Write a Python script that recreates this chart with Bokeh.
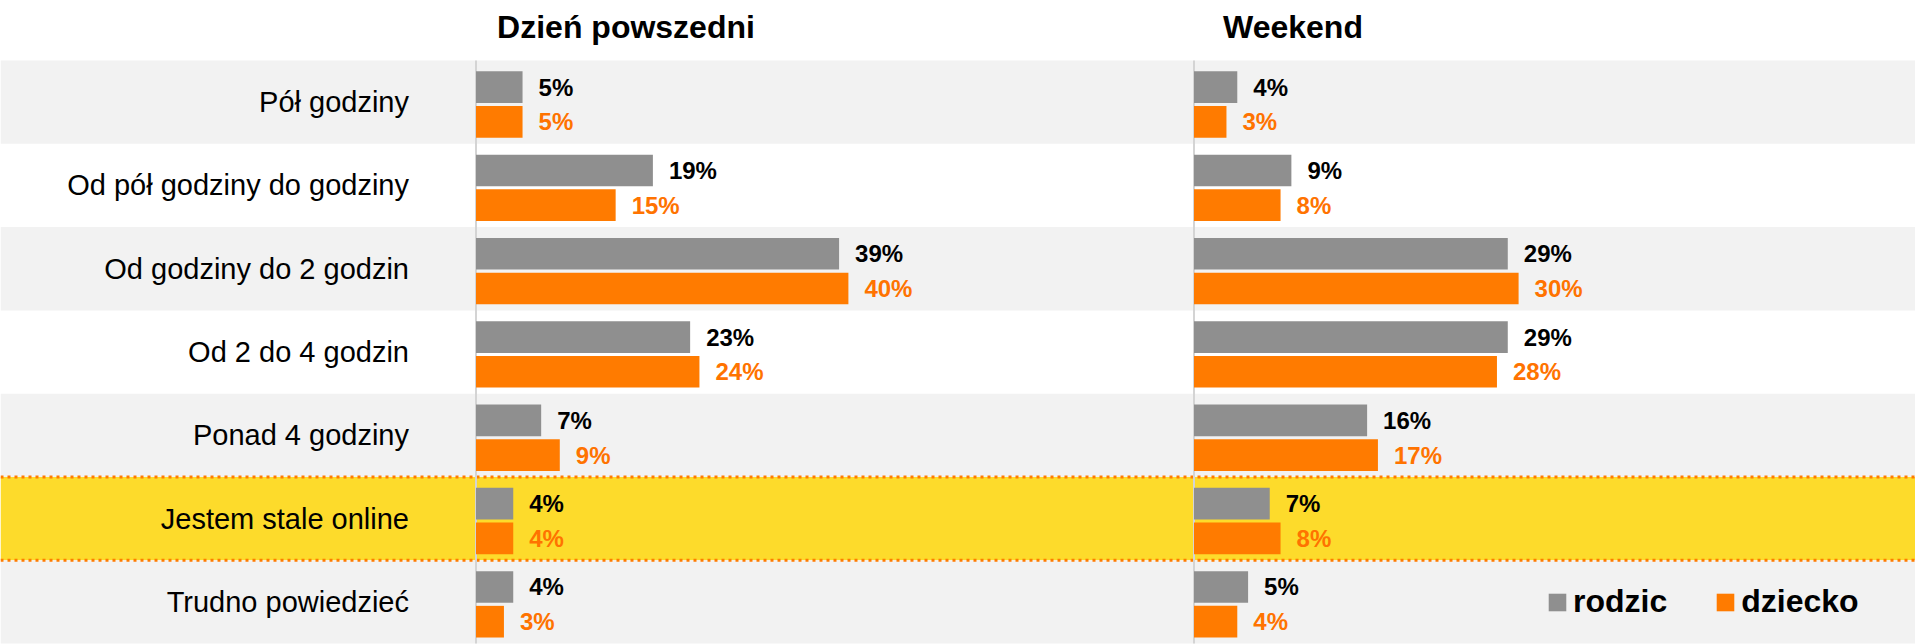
from bokeh.plotting import figure
from bokeh.models import Range1d, BoxAnnotation, Span, Legend, LegendItem, ColumnDataSource
from bokeh.core.properties import value
from bokeh.embed import file_html
from bokeh.resources import INLINE

categories = ["Pół godziny", "Od pół godziny do godziny", "Od godziny do 2 godzin",
              "Od 2 do 4 godzin", "Ponad 4 godziny", "Jestem stale online", "Trudno powiedzieć"]
day_rodzic = [5, 19, 39, 23, 7, 4, 4]
day_dziecko = [5, 15, 40, 24, 9, 4, 3]
wk_rodzic = [4, 9, 29, 29, 16, 7, 5]
wk_dziecko = [3, 8, 30, 28, 17, 8, 4]
panel_titles = ["Dzień powszedni", "Weekend"]
series_names = ["rodzic", "dziecko"]
highlight_row = 5

W, H = 1915, 644
ROW_PX = 83.3
TOP_PX = 60
DAY_PX = 9.31
WK_PX = 10.82
DAY_ZERO = 475.5
WK_ZERO = 1193.5

GRAY = "#8F8F8F"
ORANGE = "#FF7B00"
ORANGE_TXT = "#FF7300"
BAND = "#F2F2F2"
YELLOW = "#FDDB2B"
FONT = "Liberation Sans"

y_top = 0.5 + TOP_PX / ROW_PX
y_bot = y_top - H / ROW_PX

p = figure(width=W, height=H, output_backend="svg", toolbar_location=None,
           x_range=Range1d(-DAY_ZERO / DAY_PX, (W - DAY_ZERO) / DAY_PX),
           y_range=Range1d(y_bot, y_top),
           x_axis_location=None, y_axis_location=None, min_border=0,
           outline_line_color=None, background_fill_color="white", border_fill_color="white")
p.extra_x_ranges = {"wk": Range1d(-WK_ZERO / WK_PX, (W - WK_ZERO) / WK_PX)}
p.grid.visible = False

n = len(categories)
ys = [-i for i in range(n)]

# row bands
for i in range(n):
    if i == highlight_row:
        col = YELLOW
    elif i % 2 == 0:
        col = BAND
    else:
        col = "white"
    if col != "white":
        p.add_layout(BoxAnnotation(top=ys[i] + 0.5, bottom=ys[i] - 0.5, fill_color=col,
                                   fill_alpha=1, line_alpha=0, level="underlay"))

for loc in (ys[highlight_row] + 0.5, ys[highlight_row] - 0.5):
    p.add_layout(Span(location=loc, dimension="width", line_color=ORANGE, line_width=3,
                      line_dash="3 4", level="underlay"))

OFF_R = 0.18
OFF_D = -0.237
BH = 0.38

renderers = {}
for rng, rod, dz in ((p.x_range, day_rodzic, day_dziecko), ("wk", wk_rodzic, wk_dziecko)):
    kw = {} if rng is p.x_range else {"x_range_name": "wk"}
    src = ColumnDataSource(dict(
        yr=[y + OFF_R for y in ys], yd=[y + OFF_D for y in ys], r=rod, d=dz,
        rl=[f"{v}%" for v in rod], dl=[f"{v}%" for v in dz]))
    # axis line
    p.segment(x0=[0], y0=[ys[0] + 0.5], x1=[0], y1=[ys[-1] - 0.5], line_color="#D4D4D4",
              line_width=2, **kw)
    rr = p.hbar(y="yr", right="r", left=0, height=BH, fill_color=GRAY, line_color=None,
                source=src, **kw)
    rd = p.hbar(y="yd", right="d", left=0, height=BH, fill_color=ORANGE, line_color=None,
                source=src, **kw)
    renderers.setdefault("rodzic", rr)
    renderers.setdefault("dziecko", rd)
    p.text(x="r", y="yr", text="rl", x_offset=16, text_align="left", text_baseline="middle",
           text_font=value(FONT), text_font_size="24px", text_font_style="bold",
           text_color="black", source=src, **kw)
    p.text(x="d", y="yd", text="dl", x_offset=16, text_align="left", text_baseline="middle",
           text_font=value(FONT), text_font_size="24px", text_font_style="bold",
           text_color=ORANGE_TXT, source=src, **kw)

# category labels
p.text(x=[0] * n, y=ys, text=categories, x_offset=-67, text_align="right",
       text_baseline="middle", text_font=value(FONT), text_font_size="29px", text_color="black")

# panel titles
p.text(x=[0], y=[ys[0] + 0.5], text=[panel_titles[0]], x_offset=150, y_offset=-34,
       text_align="center", text_baseline="middle", text_font=value(FONT),
       text_font_size="32px", text_font_style="bold", text_color="black")
p.text(x=[0], y=[ys[0] + 0.5], text=[panel_titles[1]], x_offset=99, y_offset=-34,
       text_align="center", text_baseline="middle", text_font=value(FONT),
       text_font_size="32px", text_font_style="bold", text_color="black", x_range_name="wk")

legend = Legend(items=[LegendItem(label=s, renderers=[renderers[s]]) for s in series_names],
                orientation="horizontal", location=(1546, 24),
                background_fill_alpha=0, border_line_alpha=0,
                glyph_width=22, glyph_height=22, label_standoff=5, spacing=47,
                padding=0, margin=0, label_text_font=FONT, label_text_font_size="32px",
                label_text_font_style="bold", label_text_color="black", label_height=22)
p.add_layout(legend, "center")

open("out.html", "w").write(file_html(p, INLINE))
